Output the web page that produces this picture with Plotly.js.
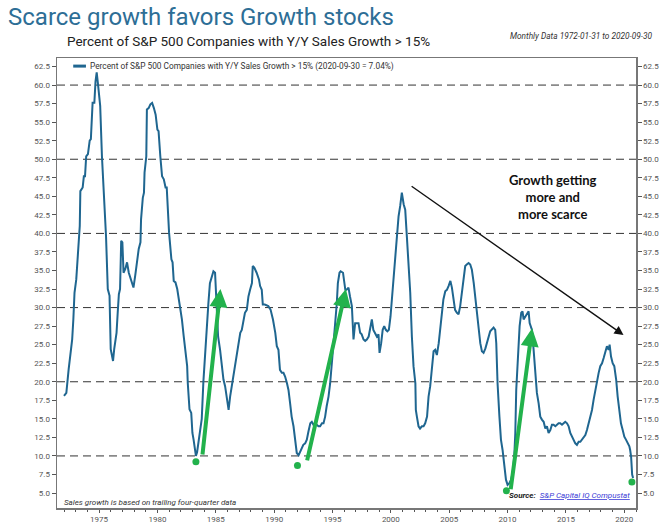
<!DOCTYPE html>
<html>
<head>
<meta charset="utf-8">
<script src="https://cdn.plot.ly/plotly-3.0.1.min.js"></script>
<style>html,body{margin:0;padding:0;background:#fff;}#chart{width:670px;height:525px;}</style>
</head>
<body>
<div id="chart"></div>
<script>
// Fractional year of each reading (monthly data 1972-01 .. 2020-09)
const years = [
1972.0,1972.2,1972.4,1972.5,1972.7,1972.8,1972.9,1973.05,1973.2,1973.35,1973.4,1973.6,1973.7,1973.8,1973.9,
1974.05,1974.2,1974.3,1974.45,1974.6,1974.7,1974.8,1974.9,1975.0,1975.1,1975.25,1975.4,1975.5,1975.6,1975.75,1975.9,
1976.0,1976.1,1976.2,1976.3,1976.5,1976.6,1976.7,1976.8,1976.9,1977.0,1977.1,1977.25,1977.4,1977.55,1977.75,1977.95,
1978.1,1978.25,1978.4,1978.55,1978.6,1978.75,1978.85,1978.9,1979.05,1979.1,1979.25,1979.4,1979.55,1979.7,1979.85,
1980.0,1980.1,1980.25,1980.4,1980.55,1980.7,1980.8,1980.9,1981.0,1981.2,1981.3,1981.4,1981.55,1981.7,1981.8,
1982.0,1982.1,1982.25,1982.4,1982.55,1982.6,1982.75,1982.9,1983.0,1983.1,1983.2,1983.3,1983.4,1983.55,1983.7,1983.8,1983.94,
1984.1,1984.23,1984.37,1984.5,1984.66,1984.8,1984.94,1985.1,1985.2,1985.37,1985.5,1985.66,1985.8,1985.94,
1986.1,1986.23,1986.37,1986.5,1986.66,1986.8,1986.94,1987.1,1987.23,1987.37,1987.5,1987.66,1987.8,1987.94,
1988.1,1988.17,1988.3,1988.5,1988.7,1988.8,1988.94,1989.03,1989.2,1989.5,1989.7,1989.9,
1990.1,1990.23,1990.37,1990.5,1990.66,1990.8,1990.94,1991.1,1991.23,1991.37,1991.5,1991.66,1991.8,1991.94,
1992.1,1992.23,1992.37,1992.5,1992.66,1992.8,1992.94,1993.1,1993.23,1993.37,1993.5,1993.66,1993.8,1993.94,
1994.1,1994.23,1994.37,1994.5,1994.66,1994.8,1994.94,1995.1,1995.23,1995.37,1995.46,1995.6,1995.7,1995.9,
1996.0,1996.1,1996.2,1996.37,1996.5,1996.66,1996.8,1996.94,1997.23,1997.37,1997.5,1997.66,1997.8,1997.94,
1998.1,1998.23,1998.37,1998.5,1998.66,1998.8,1998.94,1999.03,1999.17,1999.3,1999.43,1999.57,1999.7,1999.83,1999.97,
2000.06,2000.2,2000.37,2000.5,2000.66,2000.8,2000.94,2001.1,2001.23,2001.37,2001.5,2001.66,2001.8,2001.94,
2002.1,2002.14,2002.23,2002.37,2002.5,2002.66,2002.8,2002.94,2003.1,2003.23,2003.37,2003.5,2003.66,2003.8,2003.94,
2004.1,2004.23,2004.37,2004.5,2004.66,2004.8,2004.94,2005.1,2005.23,2005.37,2005.5,2005.66,2005.8,2005.94,
2006.1,2006.23,2006.37,2006.5,2006.66,2006.8,2006.94,2007.1,2007.23,2007.37,2007.5,2007.66,2007.8,2007.94,
2008.1,2008.23,2008.37,2008.51,2008.8,2008.94,2009.03,2009.14,2009.3,2009.43,2009.57,2009.71,2009.86,
2010.0,2010.14,2010.3,2010.43,2010.57,2010.66,2010.74,2010.86,2010.94,2011.03,2011.17,2011.28,2011.37,2011.51,2011.66,2011.8,2011.89,
2012.09,2012.23,2012.37,2012.51,2012.66,2012.8,2012.94,2013.09,2013.23,2013.37,2013.51,2013.66,2013.8,2013.94,
2014.09,2014.23,2014.37,2014.51,2014.66,2014.8,2014.94,2015.09,2015.23,2015.37,2015.51,2015.66,2015.8,2015.94,
2016.09,2016.23,2016.37,2016.51,2016.66,2016.8,2016.94,2017.09,2017.23,2017.37,2017.51,2017.66,2017.8,2017.94,
2018.09,2018.23,2018.37,2018.51,2018.66,2018.74,2018.86,2019.0,2019.14,2019.3,2019.43,2019.57,2019.71,2019.86,
2020.0,2020.14,2020.3,2020.43,2020.5,2020.58,2020.67,2020.75
];
// Percent of S&P 500 companies with Y/Y sales growth > 15%
const pct = [
18.1,18.5,21.7,22.8,25.7,28.4,32.0,33.8,37.0,41.0,45.7,46.2,47.7,47.7,50.4,
50.7,52.5,52.7,57.6,57.6,60.5,61.7,60.3,58.1,57.2,50.4,45.5,41.4,39.6,32.5,31.6,
24.4,23.7,22.8,24.4,26.6,29.3,31.8,32.5,39.0,38.8,34.7,35.2,36.1,34.7,33.8,32.7,
34.3,36.5,37.9,38.8,41.9,44.8,45.5,48.2,50.4,56.7,56.9,57.4,57.6,56.9,56.0,
54.0,53.8,50.4,47.7,47.3,46.2,46.2,42.8,40.1,36.5,36.1,33.6,33.4,32.5,31.6,
29.8,28.4,26.2,24.4,22.1,19.9,16.3,15.8,13.1,12.2,10.9,10.0,10.5,12.2,13.6,15.0,20.0,
24.3,27.9,30.6,33.3,34.2,34.9,34.7,30.2,26.1,24.3,22.5,20.3,19.4,18.0,
16.2,18.0,19.4,20.7,22.5,23.4,25.2,26.6,27.0,28.4,29.3,29.7,31.5,32.4,
33.3,35.6,35.4,34.7,33.8,32.9,32.4,30.4,30.4,30.2,29.7,28.4,
26.6,24.8,24.3,21.6,21.2,21.2,20.7,19.8,18.9,17.1,15.3,14.0,11.7,10.4,
10.1,10.6,11.0,11.5,11.7,12.2,13.3,14.4,14.6,14.2,14.4,14.2,14.0,14.0,
14.4,14.4,15.3,16.7,18.0,19.8,22.1,24.8,27.9,30.6,33.3,34.7,34.9,34.7,
33.3,32.4,32.4,32.7,31.5,30.2,25.7,27.9,27.9,26.6,26.4,25.7,25.5,25.7,
26.1,27.0,28.4,27.0,26.4,26.1,26.4,23.9,25.2,27.0,27.5,27.0,26.8,27.0,28.8,
30.6,32.4,36.9,39.6,42.3,43.7,45.5,43.9,43.2,39.6,36.5,32.0,26.1,22.1,
19.8,16.2,15.3,14.0,13.7,14.0,14.0,14.4,15.3,18.0,19.4,21.6,24.1,24.3,23.6,
25.2,27.0,28.8,31.1,32.2,32.4,32.9,33.6,32.7,31.1,29.7,29.3,29.1,30.2,
32.0,33.3,35.6,35.8,36.0,35.8,35.1,33.3,31.5,29.3,27.0,25.2,24.1,23.9,
24.5,25.2,25.7,26.8,27.3,27.0,25.2,19.8,15.3,12.2,10.8,9.0,6.8,
6.1,6.3,6.8,7.7,9.9,13.1,18.9,23.4,26.1,27.5,29.3,29.5,28.4,28.8,29.3,29.5,27.9,
27.0,24.3,20.7,18.5,17.1,15.3,14.9,14.6,13.7,14.0,13.1,13.5,14.2,14.2,
14.0,14.2,14.4,14.4,14.2,14.4,14.6,14.4,14.0,13.1,12.6,12.2,11.7,11.5,
11.9,11.9,12.2,12.6,12.8,13.5,14.4,15.3,16.2,17.6,18.9,20.3,21.2,22.1,
22.5,23.2,23.9,24.8,24.3,25.0,23.4,22.5,22.1,20.3,18.0,15.8,14.4,13.5,
12.6,12.2,11.7,11.3,10.8,9.9,7.5,7.04
];
// Highlighted troughs (green dots)
const troughYears = [1983.3, 1992.0, 2009.9, 2020.65];
const troughPct = [9.2, 8.7, 5.3, 6.5];
// Green "recovery" arrows: start -> end
const arrowFromYear = [1983.85, 1992.8, 2010.25];
const arrowFromPct = [10.0, 9.2, 5.3];
const arrowToYear = [1985.4, 1996.15, 2012.1];
const arrowToPct = [32.5, 32.5, 27.2];
// Black trend arrow
const trendFrom = [2001.65, 46.5];
const trendTo = [2019.93, 26.3];
// Dashed reference levels
const gridLevels = [10, 20, 30, 40, 50, 60];
const xTicks = [1975, 1980, 1985, 1990, 1995, 2000, 2005, 2010, 2015, 2020];

const lineColor = '#1f6690';
const green = '#22b24c';
const yRange = [2.98, 63.65];

const yAxisCommon = {
  range: yRange, tick0: 5, dtick: 2.5, tickformat: '.1f',
  ticks: 'outside', ticklen: 4, tickcolor: '#555', tickwidth: 1,
  tickfont: {family: 'Roboto, sans-serif', size: 8, color: '#555'},
  showgrid: false, zeroline: false, showline: true, linecolor: '#777', linewidth: 1.5,
  fixedrange: true
};

const traces = [
  {x: years, y: pct, type: 'scatter', mode: 'lines', name: 'pct',
   line: {color: lineColor, width: 2}, showlegend: false, hoverinfo: 'skip'},
  {x: troughYears, y: troughPct, type: 'scatter', mode: 'markers',
   marker: {color: green, size: 7}, showlegend: false, hoverinfo: 'skip'},
  {x: years, y: pct, type: 'scatter', mode: 'lines', yaxis: 'y2',
   line: {color: 'rgba(0,0,0,0)', width: 0}, showlegend: false, hoverinfo: 'skip'}
];

const shapes = gridLevels.map(v => ({
  type: 'line', xref: 'paper', x0: 0, x1: 1, yref: 'y', y0: v, y1: v,
  line: {color: '#333', width: 1, dash: '8px,5px'}, layer: 'below'
}));
// legend sample
shapes.push({type: 'line', xref: 'paper', yref: 'paper', x0: 0.028, x1: 0.05, y0: 0.982, y1: 0.982,
  line: {color: lineColor, width: 3}});

const annotations = [];
for (let i = 0; i < arrowFromYear.length; i++) {
  annotations.push({x: arrowToYear[i], y: arrowToPct[i], ax: arrowFromYear[i], ay: arrowFromPct[i],
    xref: 'x', yref: 'y', axref: 'x', ayref: 'y', text: '', showarrow: true,
    arrowhead: 2, arrowsize: 0.9, arrowwidth: 4, arrowcolor: green, standoff: 0, startstandoff: 0});
}
annotations.push({x: trendTo[0], y: trendTo[1], ax: trendFrom[0], ay: trendFrom[1],
  xref: 'x', yref: 'y', axref: 'x', ayref: 'y', text: '', showarrow: true,
  arrowhead: 2, arrowsize: 1.3, arrowwidth: 1.4, arrowcolor: '#111', standoff: 0});
annotations.push({x: 2013.9, y: 44.9, xref: 'x', yref: 'y', showarrow: false,
  text: '<b>Growth getting<br>more and<br>more scarce</b>', align: 'center',
  font: {family: 'Lato, "Open Sans", sans-serif', size: 13, color: '#111'}});
annotations.push({xref: 'paper', yref: 'paper', x: 0.054, y: 0.982, xanchor: 'left', yanchor: 'middle',
  showarrow: false, text: 'Percent of S&P 500 Companies with Y/Y Sales Growth > 15% (2020-09-30 = 7.04%)',
  font: {family: 'Roboto, sans-serif', size: 8.3, color: '#333'}});
annotations.push({xref: 'paper', yref: 'paper', x: 0.0138, y: 1.0376, xanchor: 'left', yanchor: 'middle',
  showarrow: false, text: 'Percent of S&P 500 Companies with Y/Y Sales Growth > 15%',
  font: {family: 'Roboto, sans-serif', size: 13.5, color: '#222'}});
annotations.push({xref: 'paper', yref: 'paper', x: 1.033, y: 1.0487, xanchor: 'right', yanchor: 'middle',
  showarrow: false, text: '<i>Monthly Data 1972-01-31 to 2020-09-30</i>',
  font: {family: 'Roboto, sans-serif', size: 8.3, color: '#333'}});
annotations.push({xref: 'paper', yref: 'paper', x: 0.0086, y: 0.012, xanchor: 'left', yanchor: 'middle',
  showarrow: false, text: '<i>Sales growth is based on trailing four-quarter data</i>',
  font: {family: 'Roboto, sans-serif', size: 8, color: '#333'}});
annotations.push({xref: 'paper', yref: 'paper', x: 0.993, y: 0.028, xanchor: 'right', yanchor: 'middle',
  showarrow: false,
  text: '<b><i>Source:</i></b>  <span style="color:#3b3bd6"><i><u>S&P Capital IQ Compustat</u></i></span>',
  font: {family: 'Roboto, sans-serif', size: 8, color: '#222'}});

const layout = {
  width: 670, height: 525,
  margin: {l: 57, r: 34, t: 58, b: 17, pad: 0},
  paper_bgcolor: '#fff', plot_bgcolor: '#fff',
  showlegend: false,
  title: {text: 'Scarce growth favors Growth stocks', x: 0.012, xanchor: 'left', y: 0.969, yanchor: 'middle',
    font: {family: 'Roboto, sans-serif', size: 24, color: '#2d6e96'}},
  xaxis: {range: [1971.4, 2021.0], tickvals: xTicks, ticks: 'outside', ticklen: 3, tickcolor: '#555',
    tickfont: {family: 'Roboto, sans-serif', size: 8, color: '#555'},
    minor: {dtick: 1, tick0: 1970, ticks: 'outside', ticklen: 2, tickcolor: '#555'},
    showgrid: false, zeroline: false, showline: true, mirror: true, linecolor: '#777', linewidth: 1.5,
    fixedrange: true},
  yaxis: Object.assign({}, yAxisCommon, {side: 'left'}),
  yaxis2: Object.assign({}, yAxisCommon, {side: 'right', overlaying: 'y'}),
  shapes: shapes,
  annotations: annotations
};

Plotly.newPlot('chart', traces, layout, {displayModeBar: false, staticPlot: true});
</script>
</body>
</html>
